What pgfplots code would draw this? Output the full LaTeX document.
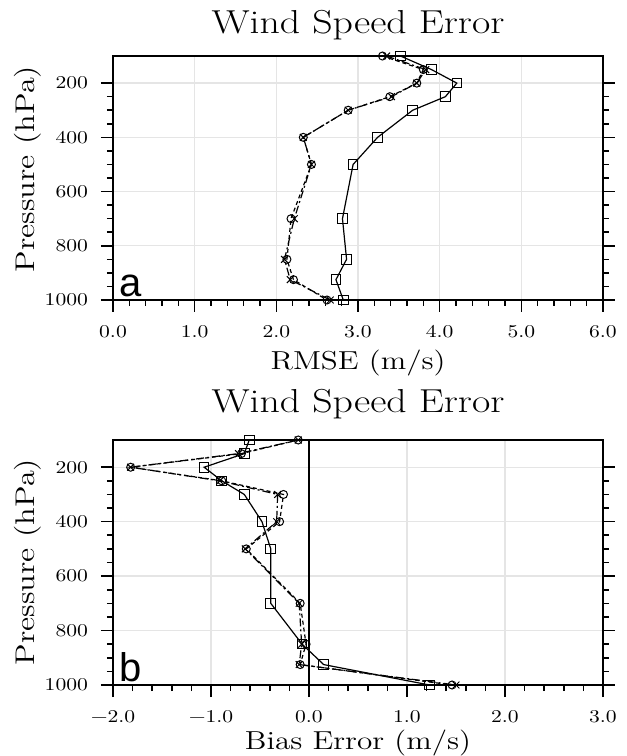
\documentclass[border=0pt]{standalone}
\usepackage{fontspec}
\setmainfont{lmroman10-regular}[Extension=.otf, FakeStretch=1.2]
\newfontfamily\titlefont{lmroman17-regular}[Extension=.otf, FakeStretch=1.2]
\newfontfamily\labelfont{lmroman12-regular}[Extension=.otf, FakeStretch=1.2]
\newfontfamily\lblsans{Liberation Sans}
\usepackage{pgfplots}
\pgfplotsset{compat=1.18}
\pgfplotsset{
  myax/.style={
    scale only axis, width=245pt, anchor=south west,
    y dir=reverse, ymin=100, ymax=1000,
    ytick={200,400,600,800,1000}, yticklabels={200,400,600,800,1000},
    minor y tick num=3, minor x tick num=4,
    tick align=outside, xtick pos=bottom, ytick pos=both,
    major tick length=6pt, minor tick length=3pt,
    axis line style={line width=1pt},
    every tick/.style={black, line width=0.8pt},
    xmajorgrids, ymajorgrids,
    major grid style={gray!20, line width=0.7pt},
    tick label style={font=\fontsize{9}{10}\selectfont},
    yticklabel style={xshift=-3pt},
    xticklabel style={yshift=-3pt},
    clip=false,
  },
  sq/.style={black, line width=0.6pt, mark=square, mark size=2.4pt, mark options={solid, line width=0.5pt}},
  xs/.style={black, line width=0.6pt, dash pattern=on 4pt off 1.5pt on 1pt off 1.5pt, mark=x, mark size=2.4pt, mark options={solid, line width=0.5pt}},
  os/.style={black, line width=0.6pt, dash pattern=on 2pt off 1.5pt, mark=o, mark size=2pt, mark options={solid, line width=0.5pt}},
}
\begin{document}
\begin{tikzpicture}
\path[use as bounding box] (0,0) rectangle (313.5pt,378pt);
% ---------------- panel a ----------------
\begin{axis}[myax, at={(56.5pt,228pt)}, height=122pt,
  xmin=0, xmax=6, xtick={0,1,2,3,4,5,6},
  xticklabels={0.0,1.0,2.0,3.0,4.0,5.0,6.0}]
\addplot[os] coordinates {(3.30,100)(3.80,150)(3.72,200)(3.39,250)(2.88,300)(2.33,400)(2.43,500)(2.18,700)(2.13,850)(2.21,925)(2.62,1000)};
\addplot[xs] coordinates {(3.35,100)(3.83,150)(3.72,200)(3.41,250)(2.88,300)(2.33,400)(2.43,500)(2.22,700)(2.10,850)(2.17,925)(2.66,1000)};
\addplot[sq] coordinates {(3.52,100)(3.90,150)(4.21,200)(4.07,250)(3.67,300)(3.24,400)(2.94,500)(2.81,700)(2.86,850)(2.73,925)(2.82,1000)};
\node[anchor=base west, font=\lblsans\fontsize{20}{20}\selectfont, inner sep=0pt] at ([xshift=3pt, yshift=2pt]rel axis cs:0,0) {a};
\end{axis}
% ---------------- panel b ----------------
\begin{axis}[myax, at={(56.5pt,35.5pt)}, height=122.5pt,
  xmin=-2, xmax=3, xtick={-2,-1,0,1,2,3},
  xticklabels={−2.0,−1.0,0.0,1.0,2.0,3.0}]
\addplot[black, line width=0.6pt, forget plot] coordinates {(0,100)(0,1000)};
\addplot[os] coordinates {(-0.11,100)(-0.69,150)(-1.82,200)(-0.89,250)(-0.26,300)(-0.30,400)(-0.64,500)(-0.09,700)(-0.03,850)(-0.09,925)(1.46,1000)};
\addplot[xs] coordinates {(-0.11,100)(-0.72,150)(-1.82,200)(-0.91,250)(-0.32,300)(-0.33,400)(-0.65,500)(-0.10,700)(-0.075,850)(-0.10,925)(1.50,1000)};
\addplot[sq] coordinates {(-0.61,100)(-0.66,150)(-1.07,200)(-0.89,250)(-0.66,300)(-0.48,400)(-0.39,500)(-0.39,700)(-0.07,850)(0.15,925)(1.23,1000)};
\node[anchor=base west, font=\lblsans\fontsize{20}{20}\selectfont, inner sep=0pt] at ([xshift=3pt, yshift=2pt]rel axis cs:0,0) {b};
\end{axis}
% ---------------- titles and labels ----------------
\node[anchor=base, inner sep=0pt, font=\titlefont\fontsize{16.6}{17}\selectfont] at (179pt,361pt) {Wind Speed Error};
\node[anchor=base, inner sep=0pt, font=\titlefont\fontsize{16.6}{17}\selectfont] at (179pt,171.5pt) {Wind Speed Error};
\node[anchor=center, inner sep=0pt, font=\labelfont\fontsize{13}{14}\selectfont] at (179pt,196.5pt) {RMSE (m/s)};
\node[anchor=center, inner sep=0pt, font=\labelfont\fontsize{13}{14}\selectfont] at (179pt,6.5pt) {Bias Error (m/s)};
\node[anchor=center, rotate=90, inner sep=0pt, font=\labelfont\fontsize{13.5}{14}\selectfont] at (14pt,293.5pt) {Pressure (hPa)};
\node[anchor=center, rotate=90, inner sep=0pt, font=\labelfont\fontsize{13.5}{14}\selectfont] at (14pt,97pt) {Pressure (hPa)};
\end{tikzpicture}
\end{document}
